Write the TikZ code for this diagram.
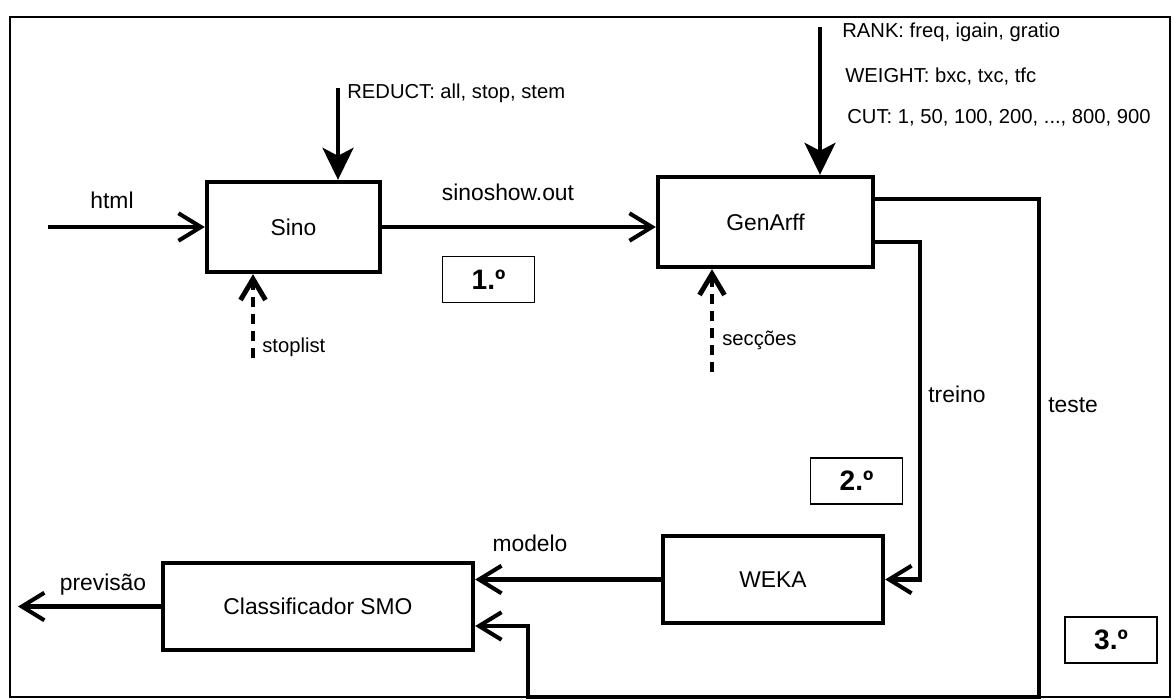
\documentclass[tikz,border=0pt]{standalone}
\usepackage{fontspec}
\setmainfont{Liberation Sans}
\usetikzlibrary{arrows.meta}

\begin{document}
\begin{tikzpicture}[x=0.02cm,y=-0.02cm,
    bloco/.style={draw,line width=2.5pt,font=\fontsize{13}{15}\selectfont},
    passo/.style={draw,line width=1.1pt,minimum width=1.84cm,minimum height=0.92cm,
      font=\bfseries\fontsize{16}{18}\selectfont},
    fio/.style={line width=2.3pt,-{Straight Barb[length=4.5mm,width=5.5mm]}},
    seta/.style={line width=2.3pt,-{Stealth[length=6.4mm,width=6.2mm,inset=1.6mm]}},
    tracejado/.style={line width=2.8pt,dash pattern=on 0.2cm off 0.14cm,
      -{Straight Barb[length=4.2mm,width=5mm]}},
    rotulo/.style={inner sep=0pt,anchor=base,font=\fontsize{13}{15}\selectfont},
    lista/.style={inner sep=0pt,anchor=base west,font=\fontsize{11.5}{13}\selectfont}]
  \useasboundingbox (0,0) rectangle (1174,700);
  \draw[line width=1.1pt] (10,17) rectangle (1170,697);

  % blocos
  \node[bloco,minimum width=3.46cm,minimum height=1.8cm] (Sino) at (293.5,227) {Sino};
  \node[bloco,minimum width=4.3cm,minimum height=1.8cm] (GenArff) at (765.5,222) {GenArff};
  \node[bloco,minimum width=4.4cm,minimum height=1.74cm] (WEKA) at (773,579.5) {WEKA};
  \node[bloco,minimum width=6.2cm,minimum height=1.74cm] (Classif) at (318,606.5) {Classificador SMO};

  \node[passo] (passo1) at (488.5,279.5) {1.º};
  \node[passo] (passo2) at (856.5,481) {2.º};
  \node[passo] (passo3) at (1111,640) {3.º};

  % pontos soltos
  \coordinate (html) at (48,227);
  \coordinate (reduct) at (338,88);
  \coordinate (stop) at (253,358);
  \coordinate (rank) at (820,27);
  \coordinate (secc) at (712,372);
  \coordinate (treinoX) at (920,579.5);
  \coordinate (testeA) at (1039,697);
  \coordinate (testeB) at (528,697);
  \coordinate (saida) at (18,606.5);

  % ligacoes
  \draw[fio] (html) -- (Sino.west);
  \draw[seta] (reduct) -- (reduct |- Sino.north);
  \draw[tracejado] (stop) -- (stop |- Sino.south);
  \draw[fio] (Sino.east) -- (Sino.east -| GenArff.west);
  \draw[seta] (rank) -- (rank |- GenArff.north);
  \draw[tracejado] (secc) -- (secc |- GenArff.south);
  \draw[fio] ([yshift=-0.4cm]GenArff.east) -| (treinoX) -- (WEKA.east);
  \draw[fio] ([yshift=0.46cm]GenArff.east) -| (testeA) -- (testeB) |- ([yshift=-0.39cm]Classif.east);
  \draw[fio] (WEKA.west) -- (WEKA.west -| Classif.east);
  \draw[fio] (Classif.west) -- (saida);

  % textos
  \node[rotulo] (lhtml) at (112,208) {html};
  \node[lista] (lreduct) at (347,98) {REDUCT: all, stop, stem};
  \node[lista] (lstop) at (262,352) {stoplist};
  \node[rotulo] (lsino) at (508,200) {sinoshow.out};
  \node[lista] (lrank) at (842,37) {RANK: freq, igain, gratio};
  \node[lista] (lweight) at (845,82) {WEIGHT: bxc, txc, tfc};
  \node[lista] (lcut) at (847,123) {CUT: 1, 50, 100, 200, ..., 800, 900};
  \node[lista] (lsecc) at (722,345) {secções};
  \node[rotulo,anchor=base west] (ltreino) at (928,402) {treino};
  \node[rotulo,anchor=base west] (lteste) at (1048,412) {teste};
  \node[rotulo] (lmodelo) at (530,551) {modelo};
  \node[rotulo] (lprev) at (103,590) {previsão};
\end{tikzpicture}
\end{document}
